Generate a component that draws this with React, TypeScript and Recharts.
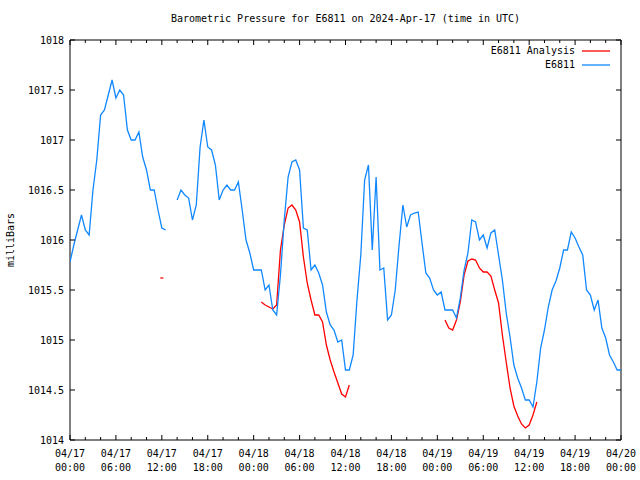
import { Legend, Line, LineChart, ReferenceArea, XAxis, YAxis } from "recharts"

const FONT = "'DejaVu Sans Mono', 'Liberation Mono', monospace"
const BLUE_COLOR = "#1188ff"
const RED_COLOR = "#ff0000"

// readings every half hour from 04/17 00:00 UTC
const STEP = 0.5

const BLUE = [
    1015.78, 1015.95, 1016.1, 1016.25, 1016.1, 1016.05, 1016.5, 1016.8, 1017.25, 1017.3,
    1017.45, 1017.6, 1017.42, 1017.5, 1017.45, 1017.1, 1017.0, 1017.0, 1017.08, 1016.83,
    1016.7, 1016.5, 1016.5, 1016.3, 1016.12, 1016.1, null, null, 1016.4, 1016.5,
    1016.45, 1016.42, 1016.2, 1016.35, 1016.93, 1017.2, 1016.93, 1016.9, 1016.75, 1016.4,
    1016.5, 1016.55, 1016.5, 1016.5, 1016.58, 1016.3, 1016.0, 1015.87, 1015.7, 1015.7,
    1015.7, 1015.5, 1015.55, 1015.3, 1015.25, 1015.65, 1016.2, 1016.63, 1016.78, 1016.8,
    1016.7, 1016.12, 1016.1, 1015.7, 1015.75, 1015.67, 1015.55, 1015.28, 1015.15, 1015.1,
    1014.98, 1015.0, 1014.7, 1014.7, 1014.85, 1015.4, 1015.85, 1016.6, 1016.75, 1015.9,
    1016.63, 1015.7, 1015.72, 1015.2, 1015.25, 1015.5, 1015.95, 1016.35, 1016.13, 1016.25,
    1016.27, 1016.28, 1015.97, 1015.67, 1015.62, 1015.5, 1015.45, 1015.48, 1015.3, 1015.3,
    1015.3, 1015.22, 1015.42, 1015.7, 1015.87, 1016.2, 1016.18, 1016.0, 1016.05, 1015.92,
    1016.07, 1016.1, 1015.85, 1015.6, 1015.27, 1015.03, 1014.75, 1014.62, 1014.52, 1014.4,
    1014.4, 1014.33, 1014.58, 1014.92, 1015.1, 1015.33, 1015.5, 1015.59, 1015.72, 1015.9,
    1015.9, 1016.08, 1016.02, 1015.93, 1015.85, 1015.5, 1015.45, 1015.3, 1015.4, 1015.12,
    1015.02, 1014.85, 1014.78, 1014.7, 1014.7,
]

// analysis only exists for a few stretches
const RED_SEGMENTS = [
    { start: 12, values: [1015.62] },
    {
        start: 25,
        values: [
            1015.38, 1015.35, 1015.33, 1015.31, 1015.35, 1015.9, 1016.15, 1016.32, 1016.35, 1016.3,
            1016.18, 1015.83, 1015.57, 1015.4, 1015.25, 1015.25, 1015.18, 1014.95, 1014.8, 1014.68,
            1014.57, 1014.46, 1014.43, 1014.55,
        ],
    },
    {
        start: 49,
        values: [
            1015.2, 1015.12, 1015.1, 1015.2, 1015.38, 1015.65, 1015.79, 1015.81, 1015.8, 1015.72,
            1015.68, 1015.68, 1015.64, 1015.5, 1015.37, 1015.05, 1014.78, 1014.52, 1014.34, 1014.24,
            1014.16, 1014.12, 1014.15, 1014.25, 1014.38,
        ],
    },
]

const X_LABELS = [
    ["04/17", "00:00"], ["04/17", "06:00"], ["04/17", "12:00"], ["04/17", "18:00"],
    ["04/18", "00:00"], ["04/18", "06:00"], ["04/18", "12:00"], ["04/18", "18:00"],
    ["04/19", "00:00"], ["04/19", "06:00"], ["04/19", "12:00"], ["04/19", "18:00"],
    ["04/20", "00:00"],
]
const MAJOR_HOURS = 6
const MINOR_HOURS = 2
const Y_TICKS = [1014, 1014.5, 1015, 1015.5, 1016, 1016.5, 1017, 1017.5, 1018]

const SERIES = [
    { name: "E6811 Analysis", color: RED_COLOR },
    { name: "E6811", color: BLUE_COLOR },
]

const HOURS_TOTAL = (X_LABELS.length - 1) * MAJOR_HOURS
const X_TICKS = Array.from({ length: HOURS_TOTAL / MINOR_HOURS + 1 }, (_, i) => i * MINOR_HOURS)

const chartData: { t: number; blue: number | null; red: number | null }[] = BLUE.map((v, i) => ({
    t: i * STEP,
    blue: v,
    red: null,
}))
RED_SEGMENTS.forEach((seg) => {
    seg.values.forEach((v, k) => {
        const idx = Math.round((seg.start + k * STEP) / STEP)
        if (chartData[idx]) chartData[idx].red = v
    })
})

const W = 640
const H = 480
const M = { top: 40, right: 19, bottom: 0, left: 0 }
const Y_AXIS_W = 70
const X_AXIS_H = 40
const PLOT_W = W - M.left - M.right - Y_AXIS_W
const PLOT_H = H - M.top - M.bottom - X_AXIS_H
const MAJOR_LEN = 5
const MINOR_LEN = 3

const XTick = (props: any) => {
    const { x, y, payload } = props
    const v = payload.value as number
    const major = v % MAJOR_HOURS === 0
    const len = major ? MAJOR_LEN : MINOR_LEN
    const label = major ? X_LABELS[v / MAJOR_HOURS] : null
    return (
        <g>
            <line x1={x} x2={x} y1={y} y2={y - len} stroke="#000" />
            <line x1={x} x2={x} y1={y - PLOT_H} y2={y - PLOT_H + len} stroke="#000" />
            {label && (
                <text x={x} y={y + 17} textAnchor="middle" fontFamily={FONT} fontSize={10} fill="#000">
                    <tspan x={x}>{label[0]}</tspan>
                    <tspan x={x} dy={14}>{label[1]}</tspan>
                </text>
            )}
        </g>
    )
}

const YTick = (props: any) => {
    const { x, y, payload } = props
    const v = payload.value as number
    return (
        <g>
            <line x1={x} x2={x + MAJOR_LEN} y1={y} y2={y} stroke="#000" />
            <line x1={x + PLOT_W} x2={x + PLOT_W - MAJOR_LEN} y1={y} y2={y} stroke="#000" />
            <text x={x - 6} y={y + 3.5} textAnchor="end" fontFamily={FONT} fontSize={10} fill="#000">
                {Number.isInteger(v) ? String(v) : v.toFixed(1)}
            </text>
        </g>
    )
}

const renderRedDot = (props: any) => {
    const { cx, cy, index } = props
    const cur = chartData[index]
    const prev = chartData[index - 1]
    const next = chartData[index + 1]
    const isolated = cur && cur.red != null && (!prev || prev.red == null) && (!next || next.red == null)
    if (!isolated || cx == null || cy == null) return <g key={`rd-${index}`} />
    return (
        <line key={`rd-${index}`} x1={cx - 1.5} x2={cx + 1.5} y1={cy} y2={cy} stroke={RED_COLOR} strokeWidth={1.3} />
    )
}

const LegendBox = () => (
    <div style={{ fontFamily: FONT, fontSize: 10, lineHeight: "14px", color: "#000" }}>
        {SERIES.map((s) => (
            <div key={s.name} style={{ display: "flex", alignItems: "center", justifyContent: "flex-end" }}>
                <span style={{ whiteSpace: "pre" }}>{s.name}</span>
                <svg width={28} height={4} style={{ marginLeft: 7, display: "block" }}>
                    <line x1={0} x2={28} y1={2} y2={2} stroke={s.color} strokeWidth={1.3} />
                </svg>
            </div>
        ))}
    </div>
)

export default function App() {
    return (
        <div style={{ position: "relative", width: W, height: H, background: "#fff" }}>
            <style>{"body{margin:0}"}</style>
            <div
                style={{
                    position: "absolute",
                    left: Y_AXIS_W,
                    width: PLOT_W,
                    top: 13,
                    lineHeight: "12px",
                    textAlign: "center",
                    fontFamily: FONT,
                    fontSize: 10,
                    color: "#000",
                    whiteSpace: "pre",
                }}
            >
                Barometric Pressure for E6811 on 2024-Apr-17 (time in UTC)
            </div>
            <LineChart width={W} height={H} data={chartData} margin={M}>
                <XAxis
                    dataKey="t"
                    type="number"
                    domain={[0, HOURS_TOTAL]}
                    ticks={X_TICKS}
                    interval={0}
                    height={X_AXIS_H}
                    axisLine={false}
                    tickLine={false}
                    tickSize={0}
                    tickMargin={0}
                    tick={<XTick />}
                    allowDataOverflow
                />
                <YAxis
                    type="number"
                    domain={[Y_TICKS[0], Y_TICKS[Y_TICKS.length - 1]]}
                    ticks={Y_TICKS}
                    interval={0}
                    width={Y_AXIS_W}
                    axisLine={false}
                    tickLine={false}
                    tickSize={0}
                    tickMargin={0}
                    tick={<YTick />}
                    allowDataOverflow
                    label={{
                        content: () => (
                            <text
                                x={10}
                                y={M.top + PLOT_H / 2}
                                transform={`rotate(-90 10 ${M.top + PLOT_H / 2})`}
                                textAnchor="middle"
                                dominantBaseline="central"
                                fontFamily={FONT}
                                fontSize={10}
                                fill="#000"
                            >
                                milliBars
                            </text>
                        ),
                    }}
                />
                <ReferenceArea
                    x1={0}
                    x2={HOURS_TOTAL}
                    y1={Y_TICKS[0]}
                    y2={Y_TICKS[Y_TICKS.length - 1]}
                    fill="none"
                    stroke="#000"
                    strokeWidth={1}
                    ifOverflow="visible"
                />
                <Legend
                    layout="vertical"
                    align="center"
                    verticalAlign="middle"
                    content={<LegendBox />}
                    wrapperStyle={{ top: 44, right: 30 }}
                />
                <Line
                    type="linear"
                    dataKey="red"
                    name="E6811 Analysis"
                    stroke={RED_COLOR}
                    strokeWidth={1.3}
                    dot={renderRedDot}
                    activeDot={false}
                    connectNulls={false}
                    isAnimationActive={false}
                />
                <Line
                    type="linear"
                    dataKey="blue"
                    name="E6811"
                    stroke={BLUE_COLOR}
                    strokeWidth={1.3}
                    dot={false}
                    activeDot={false}
                    connectNulls={false}
                    isAnimationActive={false}
                />
            </LineChart>
        </div>
    )
}
